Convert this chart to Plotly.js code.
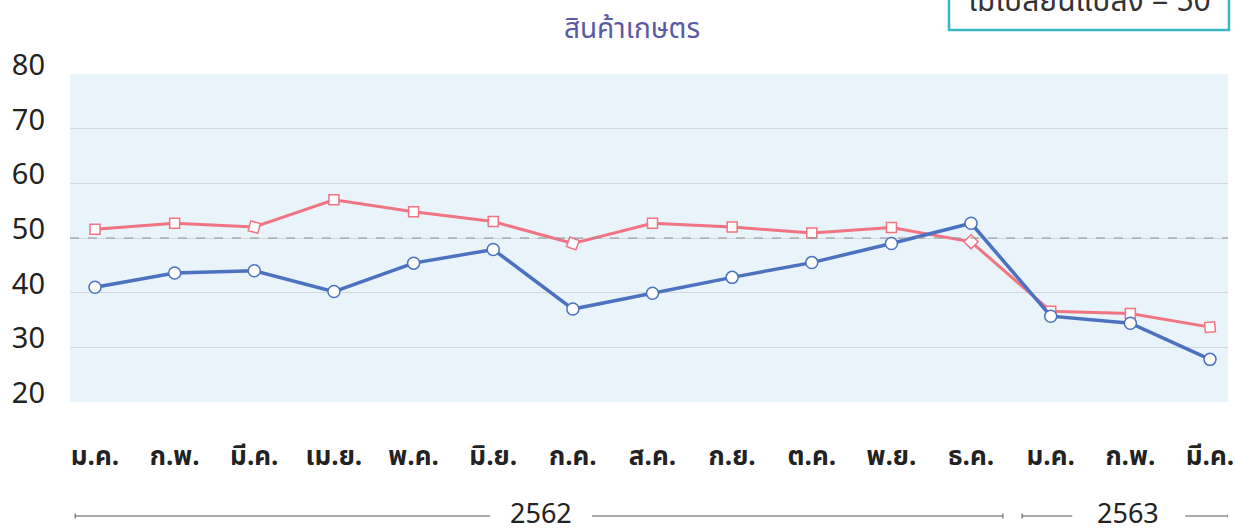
<!DOCTYPE html>
<html><head><meta charset="utf-8">
<script src="https://cdn.plot.ly/plotly-3.0.1.min.js"></script>
<style>html,body{margin:0;padding:0;background:#fff}#chart{width:1235px;height:532px}</style>
</head><body><div id="chart"></div>
<script>
const months = ['ม.ค.','ก.พ.','มี.ค.','เม.ย.','พ.ค.','มิ.ย.','ก.ค.','ส.ค.','ก.ย.','ต.ค.','พ.ย.','ธ.ค.','ม.ค.','ก.พ.','มี.ค.'];
const years = ['2562','2563'];
const blueSeries = [41.0,43.6,44.0,40.2,45.4,47.9,37.0,39.9,42.8,45.5,49.0,52.7,35.7,34.4,27.8];
const pinkSeries = [51.6,52.7,52.0,57.0,54.8,53.0,49.0,52.7,52.0,50.9,51.9,49.3,36.6,36.2,33.7];
const baseline = 50;
const chartTitle = 'สินค้าเกษตร';
const noteText = 'ไม่เปลี่ยนแปลง = 50';
const yTicks = [20,30,40,50,60,70,80];

const xIdx = months.map((_, i) => i);
const thaiFont = '"Noto Sans Thai","Noto Sans","DejaVu Sans",sans-serif';
const numFont = '"Noto Sans",Roboto,sans-serif';

const traces = [
  {x: xIdx, y: pinkSeries, type: 'scatter', mode: 'lines+markers',
   line: {color: '#f07482', width: 3},
   marker: {symbol: 'square', size: 10, color: '#ffffff', line: {color: '#f07482', width: 1.5},
            angle: [0,0,15,0,0,0,20,0,0,0,0,45,0,0,-5]},
   hoverinfo: 'skip'},
  {x: xIdx, y: blueSeries, type: 'scatter', mode: 'lines+markers',
   line: {color: '#4a72c0', width: 3.5},
   marker: {symbol: 'circle', size: 12, color: '#ffffff', line: {color: '#4a72c0', width: 1.5}},
   hoverinfo: 'skip'}
];

const lineCol = '#555555';
const yrY = -0.3476;
const yrText = -0.336;
function seg(x0, x1) {
  return {type: 'line', xref: 'x', yref: 'paper', x0: x0, x1: x1, y0: yrY, y1: yrY,
          line: {color: lineCol, width: 1.2}};
}
function cap(x) {
  return {type: 'line', xref: 'x', yref: 'paper', x0: x, x1: x, y0: yrY - 0.008, y1: yrY + 0.008,
          line: {color: lineCol, width: 1}};
}

const layout = {
  width: 1235, height: 532,
  margin: {l: 70, r: 7, t: 74, b: 130},
  paper_bgcolor: '#ffffff',
  plot_bgcolor: '#e8f3fa',
  showlegend: false,
  title: {text: chartTitle, x: 632/1235, xref: 'container', xanchor: 'center',
          y: 1 - 28/532, yref: 'container', yanchor: 'middle',
          font: {family: thaiFont, size: 28, color: '#5b5aa6'}},
  xaxis: {range: [-0.314, 14.226], tickvals: xIdx, ticktext: months, showgrid: false,
          zeroline: false, showline: false, ticks: '', ticklabelstandoff: 36, ticklabeloverflow: 'allow',
          tickfont: {family: thaiFont, size: 26, color: '#222222', weight: 'bold'}, fixedrange: true},
  yaxis: {range: [20, 80], tickvals: yTicks, showgrid: true, gridcolor: '#d3d8de', gridwidth: 1,
          zeroline: false, showline: false, ticks: '', ticklabelstandoff: 24, ticklabelshift: -9,
          tickfont: {family: numFont, size: 29, color: '#222222'}, fixedrange: true},
  shapes: [
    {type: 'line', xref: 'paper', yref: 'y', x0: 0, x1: 1, y0: baseline, y1: baseline,
     line: {color: '#909090', width: 1, dash: 'dash'}},
    seg(-0.25, 4.96), seg(6.24, 11.4), cap(-0.25), cap(11.4),
    seg(11.64, 12.27), seg(13.69, 14.23), cap(11.64), cap(14.23),
    {type: 'rect', xref: 'paper', yref: 'paper', x0: (949-70)/1158, x1: (1229-70)/1158,
     y0: 1 + (74-30)/328, y1: 1 + (74+10)/328, line: {color: '#3bb7c1', width: 2.5}, fillcolor: 'rgba(255,255,255,0.9)'}
  ],
  annotations: [
    {text: years[0], xref: 'x', yref: 'paper', x: 5.6, y: yrText, yanchor: 'middle', showarrow: false,
     font: {family: numFont, size: 27, color: '#222222'}},
    {text: years[1], xref: 'x', yref: 'paper', x: 12.97, y: yrText, yanchor: 'middle', showarrow: false,
     font: {family: numFont, size: 27, color: '#222222'}},
    {text: noteText, xref: 'paper', yref: 'paper', x: (1089-70)/1158, y: 1 + (74-2)/328,
     xanchor: 'center', yanchor: 'middle', showarrow: false,
     font: {family: thaiFont, size: 30, color: '#333333'}}
  ]
};

Plotly.newPlot('chart', traces, layout, {displayModeBar: false, staticPlot: true});
</script></body></html>
